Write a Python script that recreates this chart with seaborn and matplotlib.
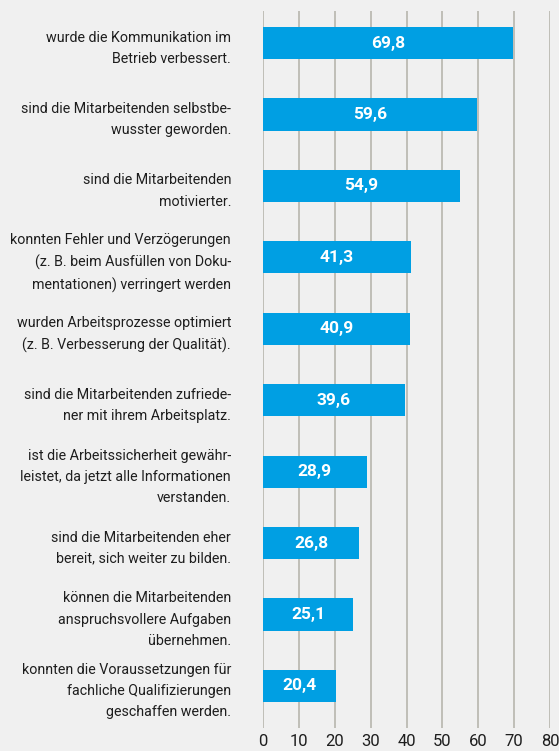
import numpy as np
import pandas as pd
import matplotlib
matplotlib.use("Agg")
import matplotlib.pyplot as plt
import seaborn as sns

# ==========================================
# DATA
# ==========================================
aussagen = [
    "wurde die Kommunikation im\nBetrieb verbessert.",
    "sind die Mitarbeitenden selbstbe-\nwusster geworden.",
    "sind die Mitarbeitenden\nmotivierter.",
    "konnten Fehler und Verzögerungen\n(z. B. beim Ausfüllen von Doku-\nmentationen) verringert werden",
    "wurden Arbeitsprozesse optimiert\n(z. B. Verbesserung der Qualität).",
    "sind die Mitarbeitenden zufriede-\nner mit ihrem Arbeitsplatz.",
    "ist die Arbeitssicherheit gewähr-\nleistet, da jetzt alle Informationen\nverstanden.",
    "sind die Mitarbeitenden eher\nbereit, sich weiter zu bilden.",
    "können die Mitarbeitenden\nanspruchsvollere Aufgaben\nübernehmen.",
    "konnten die Voraussetzungen für\nfachliche Qualifizierungen\ngeschaffen werden.",
]
werte = [69.8, 59.6, 54.9, 41.3, 40.9, 39.6, 28.9, 26.8, 25.1, 20.4]
x_ticks = [0, 10, 20, 30, 40, 50, 60, 70, 80]

df = pd.DataFrame({"aussage": aussagen, "wert": werte})

# ==========================================
# PLOT
# ==========================================
BG = "#f0f0f0"
BAR = "#009fe3"
GRID = "#bbbab2"
TXT = "#1e1e1e"

sns.set_style("white")
plt.rcParams["font.family"] = ["Roboto", "DejaVu Sans"]

fig = plt.figure(figsize=(5.59, 7.51), dpi=100, facecolor=BG)
ax = fig.add_axes([263 / 559, 1 - 728 / 751, 287 / 559, 717 / 751])
ax.set_facecolor(BG)

sns.barplot(data=df, x="wert", y="aussage", orient="h", color=BAR,
            width=0.45, saturation=1, linewidth=0, ax=ax, zorder=3)

ax.set_xlim(0, 80)
ax.set_ylim(9.59, -0.45)
ax.set_xticks(x_ticks)
ax.set_xticklabels([str(t) for t in x_ticks], fontsize=12, color=TXT)
ax.set_yticks(range(len(aussagen)))
ax.set_yticklabels(aussagen, fontsize=10.3, color=TXT, ha="right",
                   multialignment="right", linespacing=1.65)
ax.tick_params(axis="y", length=0, pad=23)
ax.tick_params(axis="x", length=0, pad=4)
ax.set_xlabel("")
ax.set_ylabel("")

for xv in x_ticks:
    ax.axvline(xv, color=GRID, lw=1.3, zorder=1)

for sp in ax.spines.values():
    sp.set_visible(False)

# Werte in den Balken
for i, v in enumerate(werte):
    ax.text(v / 2, i, f"{v:.1f}".replace(".", ","), ha="center", va="center",
            color="white", fontsize=12.5, fontweight="bold", zorder=4)

fig.savefig("out.png", dpi=100, facecolor=BG)
